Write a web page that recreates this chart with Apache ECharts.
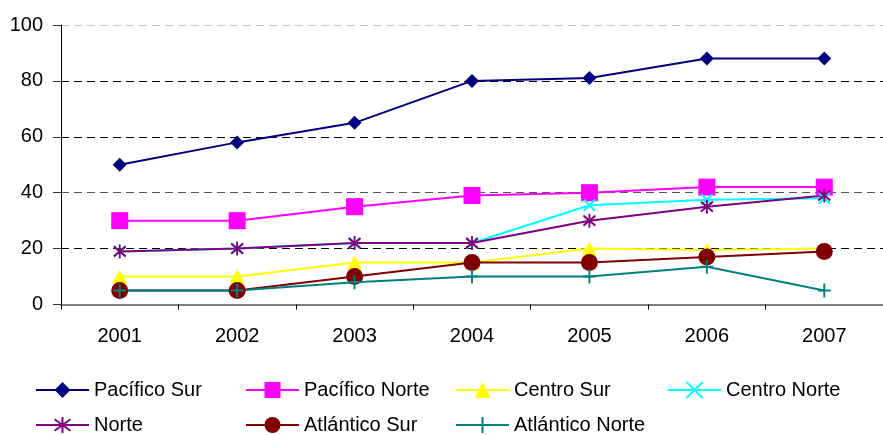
<!DOCTYPE html>
<html>
<head>
<meta charset="utf-8">
<style>
  html, body { margin: 0; padding: 0; background: #fff; }
  #chart { width: 883px; height: 435px; }
</style>
<script src="https://cdn.jsdelivr.net/npm/echarts@6/dist/echarts.min.js"></script>
</head>
<body>
<div id="chart"></div>
<script>
// Years on the category axis
const years = ['2001', '2002', '2003', '2004', '2005', '2006', '2007'];

// Values per region
const pacificoSur    = [50, 58, 65, 80, 81, 88, 88];
const pacificoNorte  = [30, 30, 35, 39, 40, 42, 42];
const centroSur      = [10, 10, 15, 15, 20, 19.5, 20];
const centroNorte    = [19, 20, 22, 22, 35.5, 37.5, 38];
const norte          = [19, 20, 22, 22, 30, 35, 39];
const atlanticoSur   = [5, 5, 10, 15, 15, 17, 19];
const atlanticoNorte = [5, 5, 8, 10, 10, 13.5, 5];

// Value axis ticks
const yTicks = [0, 20, 40, 60, 80, 100];

const FONT = '"Liberation Sans", Arial, sans-serif';

// Stroke-only marker shapes
const CROSS_X  = 'path://M0,0L10,10M10,0L0,10';
const ASTERISK = 'path://M0,0L10,10M10,0L0,10M5,-2L5,12';
const PLUS     = 'path://M5,0L5,10M0,5L10,5';

const seriesDefs = [
  { name: 'Pacífico Sur',    data: pacificoSur,    color: '#000080', symbol: 'diamond',  size: [14, 14], stroke: false },
  { name: 'Pacífico Norte',  data: pacificoNorte,  color: '#FF00FF', symbol: 'rect',     size: [17, 17], stroke: false },
  { name: 'Centro Sur',      data: centroSur,      color: '#FFFF00', symbol: 'triangle', size: [15, 14], stroke: false },
  { name: 'Centro Norte',    data: centroNorte,    color: '#00FFFF', symbol: CROSS_X,    size: [11, 11], stroke: true },
  { name: 'Norte',           data: norte,          color: '#800080', symbol: ASTERISK,   size: [12, 14], stroke: true },
  { name: 'Atlántico Sur',   data: atlanticoSur,   color: '#800000', symbol: 'circle',   size: [17, 17], stroke: false },
  { name: 'Atlántico Norte', data: atlanticoNorte, color: '#008080', symbol: PLUS,       size: [13, 14], stroke: true }
];

// Legend grid: 4 columns x 2 rows
const legendCols = [35, 245, 455, 667];
const legendRows = [380, 415];

const series = seriesDefs.map(d => ({
  name: d.name,
  type: 'line',
  data: d.data,
  symbol: d.symbol,
  symbolSize: d.size,
  showAllSymbol: true,
  lineStyle: { color: d.color, width: 2 },
  itemStyle: d.stroke
    ? { color: d.color, borderColor: d.color, borderWidth: 2 }
    : { color: d.color, borderWidth: 0 },
  emphasis: { disabled: true },
  animation: false
}));

const legends = seriesDefs.map((d, i) => ({
  data: [d.name],
  left: legendCols[i % 4],
  top: legendRows[Math.floor(i / 4)],
  padding: 0,
  itemWidth: 53,
  itemHeight: 20,
  selectedMode: false,
  textStyle: { fontFamily: FONT, fontSize: 20, color: '#000' }
}));

const chart = echarts.init(document.getElementById('chart'), null, { renderer: 'canvas' });
chart.setOption({
  backgroundColor: '#fff',
  animation: false,
  legend: legends,
  grid: { left: 61, right: -11, top: 25, bottom: 130.5, containLabel: false },
  xAxis: {
    type: 'category',
    data: years,
    boundaryGap: true,
    axisLine: { lineStyle: { color: '#808080', width: 2 } },
    axisTick: { show: true, length: 5, lineStyle: { color: '#000' } },
    axisLabel: { fontFamily: FONT, fontSize: 20, color: '#000', margin: 22 },
    splitLine: { show: false }
  },
  yAxis: {
    type: 'value',
    min: yTicks[0],
    max: yTicks[yTicks.length - 1],
    interval: yTicks[1] - yTicks[0],
    axisLine: { show: true, lineStyle: { color: '#000', width: 1 } },
    axisTick: { show: true, length: 8, lineStyle: { color: '#333' } },
    axisLabel: { fontFamily: FONT, fontSize: 20, color: '#000', margin: 18 },
    splitLine: {
      show: true,
      lineStyle: {
        color: ['#000', '#000', '#555', '#000', '#000', '#c8c8c8'],
        type: [8, 5],
        width: 1
      }
    }
  },
  series: series
});
</script>
</body>
</html>
